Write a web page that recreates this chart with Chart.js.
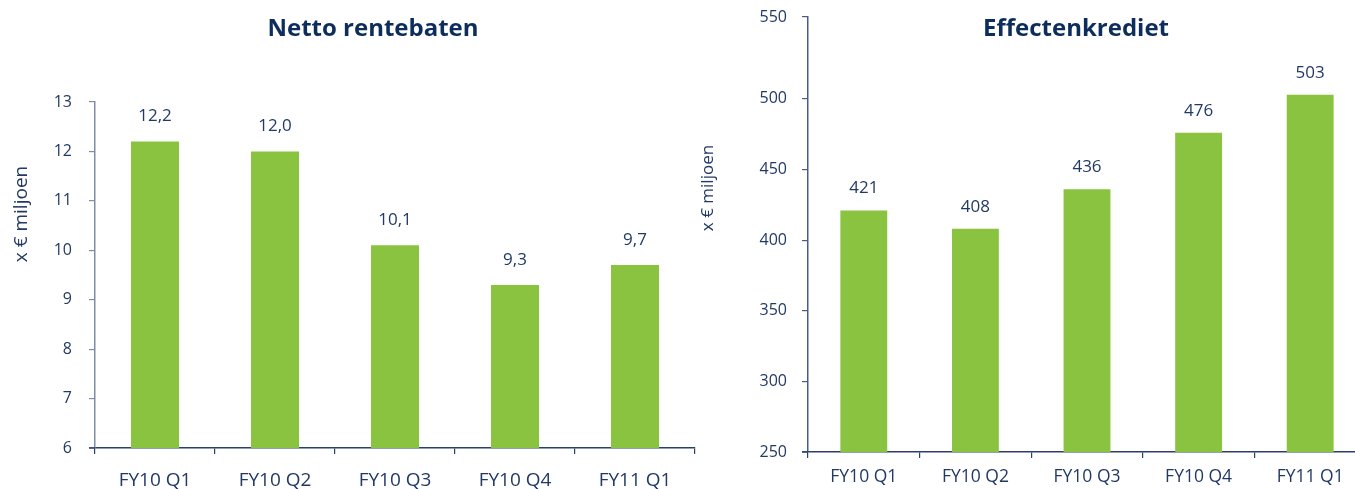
<!DOCTYPE html>
<html><head><meta charset="utf-8">
<script src="https://cdn.jsdelivr.net/npm/chart.js@4"></script>
<style>
html,body{margin:0;padding:0;overflow:hidden;background:#fff;width:1355px;height:489px;position:relative}
canvas{position:absolute}
</style></head><body>
<canvas id="c1" width="700" height="489" style="left:0;top:0"></canvas>
<canvas id="c2" width="680" height="497" style="left:690px;top:-8px"></canvas>
<script>
const categories = ['FY10 Q1','FY10 Q2','FY10 Q3','FY10 Q4','FY11 Q1'];
const nettoRentebaten = [12.2, 12.0, 10.1, 9.3, 9.7];
const effectenkrediet = [421, 408, 436, 476, 503];
const leftTicks = [6,7,8,9,10,11,12,13];
const rightTicks = [250,300,350,400,450,500,550];
const titles = ['Netto rentebaten', 'Effectenkrediet'];
const yTitle = 'x \u20AC miljoen';

const GREEN = '#8ac33f';
const NAVY = '#223965';
const TITLE = '#0d2d5d';
const FONT = '"Open Sans", "DejaVu Sans", sans-serif';

function decorPlugin(cfg){
  return {
    id: 'decor',
    afterDatasetsDraw(chart){
      const ctx = chart.ctx;
      ctx.save();
      ctx.fillStyle = NAVY;
      ctx.font = '17px ' + FONT;
      ctx.textAlign = 'center';
      ctx.textBaseline = 'middle';
      const meta = chart.getDatasetMeta(0);
      meta.data.forEach((bar, i) => {
        ctx.fillText(cfg.fmt(chart.data.datasets[0].data[i]), bar.x, bar.y - cfg.labelOffset);
      });
      ctx.fillStyle = TITLE;
      ctx.font = 'bold 24px ' + FONT;
      ctx.fillText(cfg.title, cfg.titleX, cfg.titleY);
      ctx.fillStyle = NAVY;
      ctx.font = cfg.yTitleSize + 'px ' + FONT;
      ctx.translate(cfg.yTitleX, cfg.yTitleY);
      ctx.rotate(-Math.PI/2);
      ctx.fillText(yTitle, 0, 0);
      ctx.restore();
      const ca = chart.chartArea;
      ctx.save();
      ctx.strokeStyle = '#2b3f6b';
      ctx.lineWidth = 1.5;
      ctx.beginPath();
      ctx.moveTo(ca.left - 6, ca.bottom);
      ctx.lineTo(ca.left, ca.bottom);
      ctx.stroke();
      ctx.restore();
    }
  };
}

function makeChart(id, data, opts){
  return new Chart(document.getElementById(id), {
    type: 'bar',
    data: {
      labels: categories,
      datasets: [{ data: data, backgroundColor: GREEN, borderWidth: 0,
        categoryPercentage: 1, barPercentage: opts.barPct }]
    },
    options: {
      responsive: false,
      animation: false,
      devicePixelRatio: 1,
      layout: { padding: opts.padding },
      plugins: { legend: { display: false }, tooltip: { enabled: false }, title: { display: false } },
      scales: {
        x: {
          offset: true,
          grid: { display: true, drawOnChartArea: false, drawTicks: true, tickLength: 6, offset: true, color: '#2b3f6b', lineWidth: 1.2 },
          border: { display: true, color: '#2b3f6b', width: 1.5 },
          ticks: { color: NAVY, font: { family: FONT, size: opts.xFont }, padding: opts.xPad, maxRotation: 0 },
          afterFit(s){ s.height = opts.xHeight; }
        },
        y: {
          min: opts.min, max: opts.max,
          grid: { display: true, drawOnChartArea: false, drawTicks: true, tickLength: 6, color: opts.yColor, lineWidth: 1.2 },
          border: { display: true, color: opts.yColor, width: 1.5 },
          ticks: { color: NAVY, font: { family: FONT, size: 16 }, padding: opts.yPad,
            callback: (v, i) => String(opts.tickLabels[i]) },
          afterBuildTicks(s){
            const n = opts.tickLabels.length;
            s.ticks = opts.tickLabels.map((v, i) => ({ value: (i === n - 1) ? s.max : v }));
          },
          afterFit(s){ s.width = opts.yWidth; }
        }
      }
    },
    plugins: [decorPlugin(opts.decor)]
  });
}

makeChart('c1', nettoRentebaten, {
  barPct: 0.4,
  padding: { top: 102, left: 0, right: 5, bottom: 0 },
  xFont: 19, xPad: 15, xHeight: 41,
  min: 6, max: 13, tickLabels: leftTicks,
  yColor: '#7f8dab', yPad: 17, yWidth: 95,
  decor: { fmt: v => v.toFixed(1).replace('.', ','), labelOffset: 25,
    title: titles[0], titleX: 373, titleY: 29, yTitleX: 22, yTitleY: 214, yTitleSize: 19 }
});

makeChart('c2', effectenkrediet, {
  barPct: 0.42,
  padding: { top: 25, left: 0, right: 4, bottom: 0 },
  xFont: 17.5, xPad: 9, xHeight: 37,
  min: 250, max: 558, tickLabels: rightTicks,
  yColor: '#4a5b85', yPad: 15, yWidth: 118,
  decor: { fmt: v => String(v), labelOffset: 22,
    title: titles[1], titleX: 386, titleY: 37, yTitleX: 18, yTitleY: 196, yTitleSize: 17 }
});
</script>
</body></html>
